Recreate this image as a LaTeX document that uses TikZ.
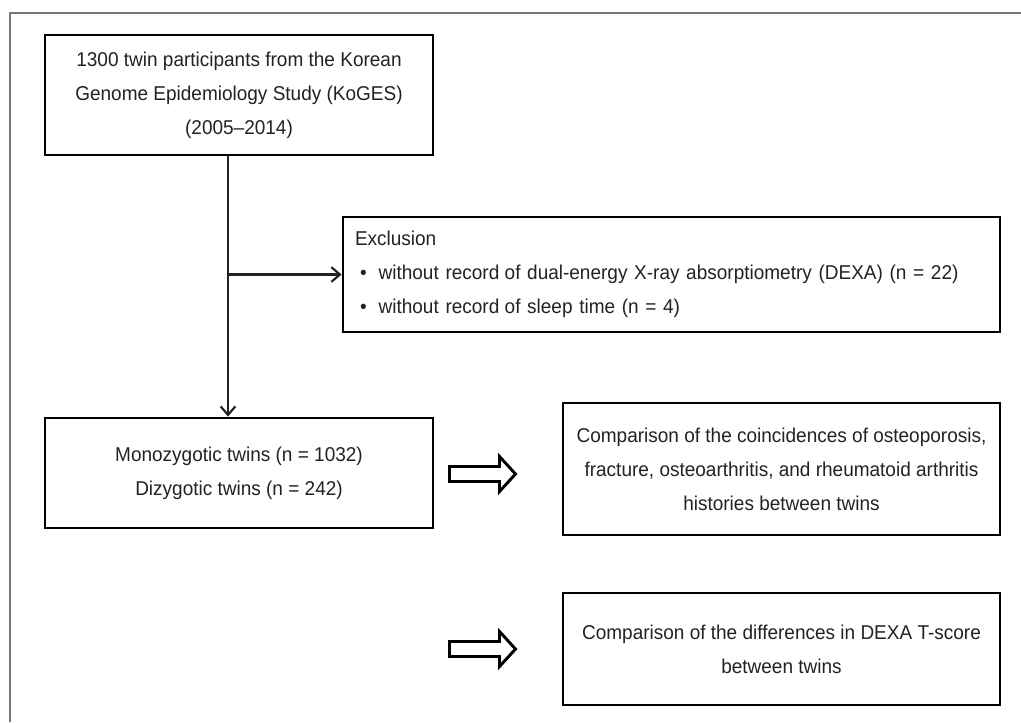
\documentclass[tikz,border=0pt]{standalone}
\usepackage{fontspec}
\setmainfont[FakeStretch=0.95]{Liberation Sans}
\usetikzlibrary{arrows.meta,calc}
\definecolor{txt}{HTML}{222222}
\definecolor{framegray}{HTML}{777777}
\begin{document}
\begin{tikzpicture}[x=0.75pt,y=-0.75pt,
  box/.style={draw=black, line width=2pt, align=center, inner sep=0pt,
    font=\fontsize{15}{25.5}\selectfont, text=txt},
  conn/.style={line width=1.6pt, draw=txt,
    -{Straight Barb[length=6.5pt,width=11pt,line width=1.6pt]}},
  blockarrow/.style={draw=black, line width=2.2pt, fill=white, line join=miter}]
\useasboundingbox (0,0) rectangle (1021,722);
% outer frame (only left and top edges visible)
\draw[framegray, line width=1.5pt] (10,722) -- (10,13) -- (1021,13);

\node[box, minimum width=291pt, minimum height=90pt] (src) at (239,95)
  {1300 twin participants from the Korean\\Genome Epidemiology Study (KoGES)\\(2005–2014)};

\node[box, minimum width=492.75pt, minimum height=86.25pt, align=left,
      text width=474.75pt, inner xsep=9pt] (excl) at (671.5,274.5)
  {Exclusion\\
   \hspace*{3.75pt}•\hspace{9pt}without\hspace{5pt}record\hspace{-1pt} of dual-energy X-ray absorptiometry (DEXA)\hspace{5pt}(n = 22)\\
   \hspace*{3.75pt}•\hspace{9pt}without\hspace{5pt}record\hspace{-1pt} of sleep time (n = 4)};

\node[box, minimum width=291pt, minimum height=82.5pt] (twins) at (239,473)
  {Monozygotic twins (n = 1032)\\Dizygotic twins (n = 242)};

\node[box, minimum width=327.75pt, minimum height=99pt] (cmp1) at (781.5,469)
  {Comparison of the coincidences of osteoporosis,\\fracture, osteoarthritis, and rheumatoid arthritis\\histories between twins};

\node[box, minimum width=327.75pt, minimum height=84pt] (cmp2) at (781.5,649)
  {Comparison of the differences in DEXA T-score\\between twins};

% connectors
\coordinate (split) at (228,274.5);
\draw[conn] (src.south -| split) -- (twins.north -| split);
\draw[conn] (split) -- (excl.west);

% block arrows
\draw[blockarrow] (449.5,466.5) -- (499.5,466.5) -- (499.5,456.5) -- (515.5,474)
  -- (499.5,491.5) -- (499.5,481.5) -- (449.5,481.5) -- cycle;
\draw[blockarrow] (449.5,641.5) -- (499.5,641.5) -- (499.5,631.5) -- (515.5,649)
  -- (499.5,666.5) -- (499.5,656.5) -- (449.5,656.5) -- cycle;
\end{tikzpicture}
\end{document}
